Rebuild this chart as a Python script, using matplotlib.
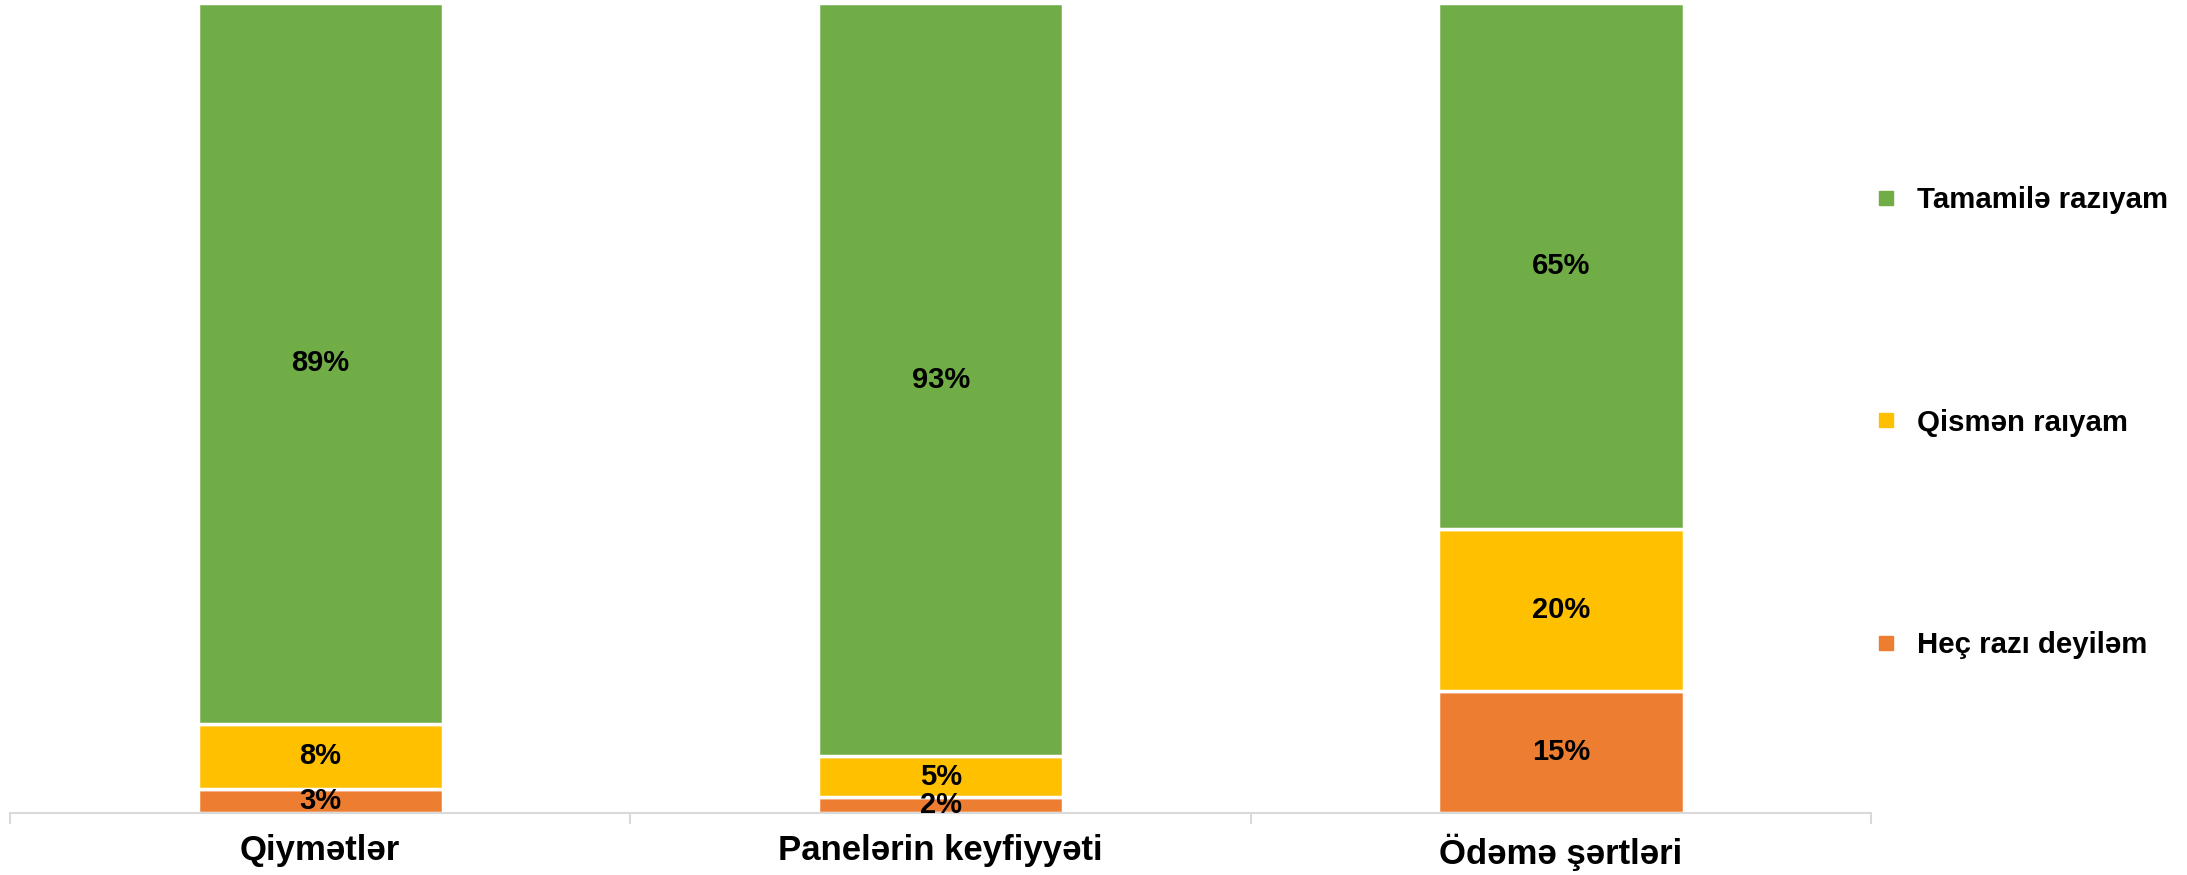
import matplotlib.pyplot as plt
from matplotlib.lines import Line2D

categories = ["Qiymətlər", "Panelərin keyfiyyəti", "Ödəmə şərtləri"]
hec_razi = [3, 2, 15]
qismen = [8, 5, 20]
tamamile = [89, 93, 65]
series_names = ["Heç razı deyiləm", "Qismən raıyam", "Tamamilə razıyam"]
colors = ["#ED7D31", "#FFC000", "#70AD47"]

fig = plt.figure(figsize=(21.87, 8.75), dpi=100)
ax = fig.add_axes([0.0046, 0.0709, 0.851, 0.9257])

x = list(range(len(categories)))
bottom = [0] * len(categories)
for vals, col in zip([hec_razi, qismen, tamamile], colors):
    bars = ax.bar(x, vals, width=0.395, bottom=bottom, color=col,
                  edgecolor="white", linewidth=2.5)
    for b, v in zip(bars, vals):
        ax.text(b.get_x() + b.get_width() / 2, b.get_y() + b.get_height() / 2,
                "{}%".format(v), ha="center", va="center", fontsize=21,
                fontweight="bold", family="Liberation Sans", color="black")
    bottom = [a + b for a, b in zip(bottom, vals)]

ax.set_xlim(-0.5, 2.5)
ax.set_ylim(0, 100)
for s in ["top", "right", "left"]:
    ax.spines[s].set_visible(False)
ax.spines["bottom"].set_color("#d9d9d9")
ax.spines["bottom"].set_linewidth(1.5)
ax.set_yticks([])
ax.set_xticks(x)
ax.set_xticklabels(categories, fontsize=25, fontweight="bold",
                   family="Liberation Sans")
ax.tick_params(axis="x", length=0, pad=15)
ax.set_xticks([-0.5, 0.5, 1.5, 2.5], minor=True)
ax.tick_params(axis="x", which="minor", length=8, width=1.5, color="#d9d9d9")

handles = [Line2D([], [], marker="s", linestyle="none", markersize=10,
                  color=c) for c in colors[::-1]]
leg = ax.legend(handles, series_names[::-1], loc="center left",
                bbox_to_anchor=(0.847, 0.517), bbox_transform=fig.transFigure,
                frameon=False, handlelength=0.5, handletextpad=0.8,
                labelspacing=6.6,
                prop={"family": "Liberation Sans", "weight": "bold", "size": 21.2})

fig.savefig("out.png", dpi=100)
